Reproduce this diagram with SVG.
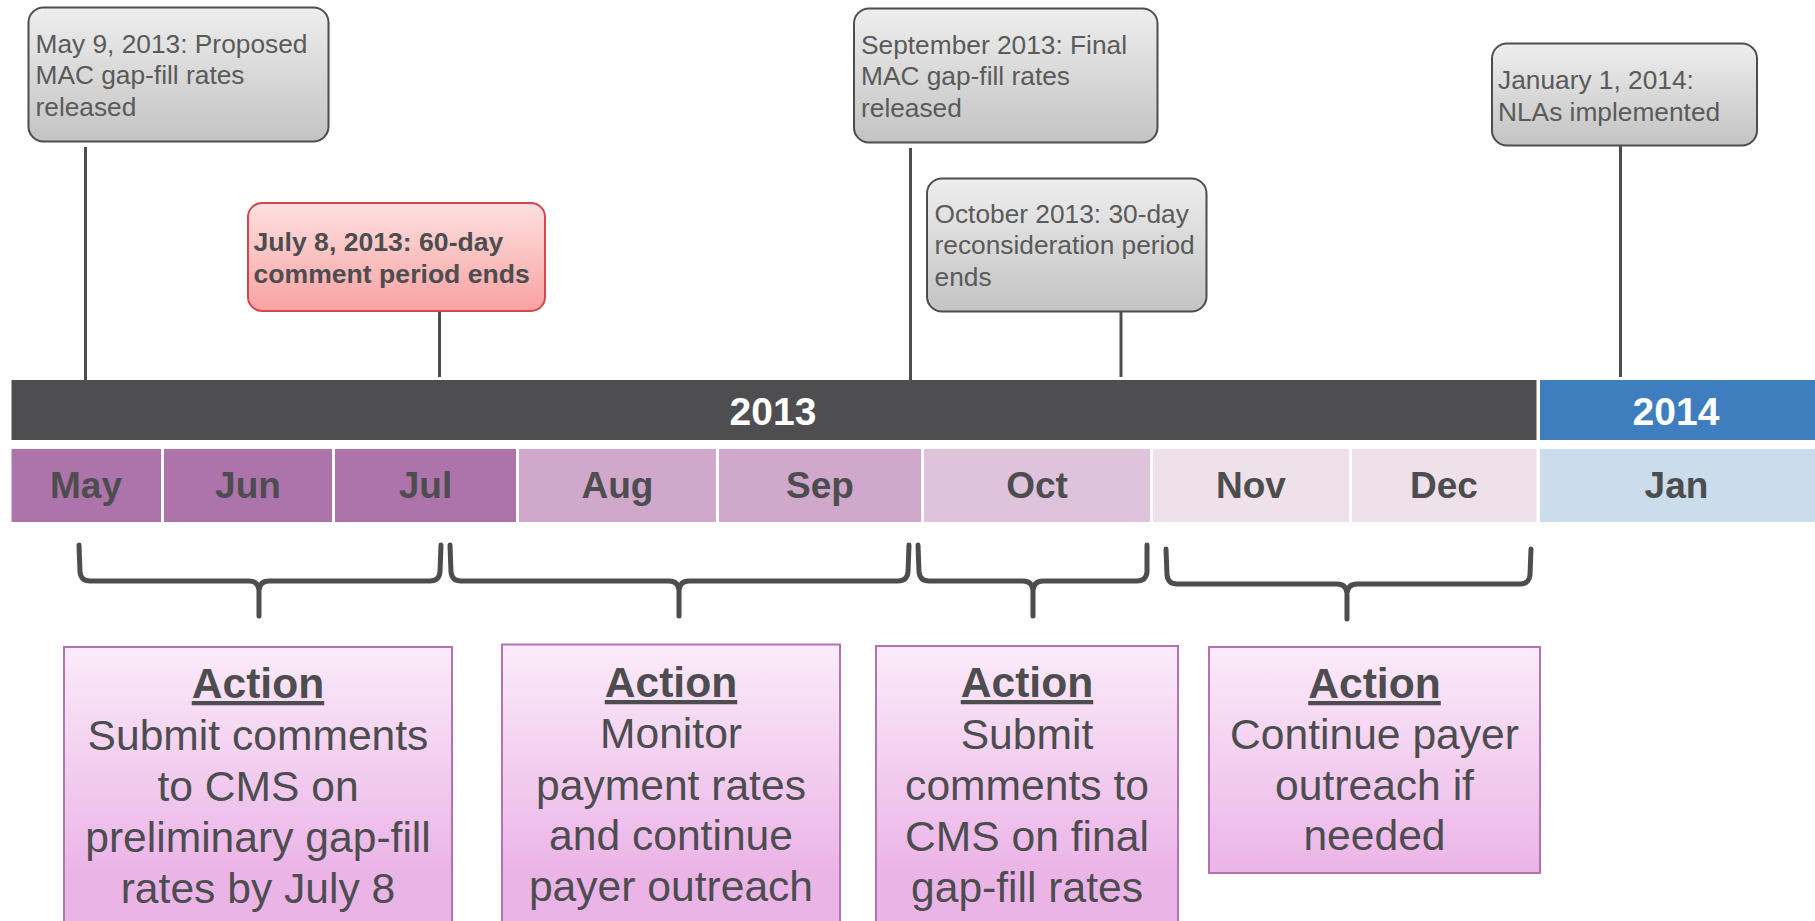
<svg xmlns="http://www.w3.org/2000/svg" width="1815" height="921" viewBox="0 0 1815 921">
<defs>
<linearGradient id="gGrey" x1="0" y1="0" x2="0" y2="1"><stop offset="0" stop-color="#eeeeee"/><stop offset="1" stop-color="#c3c3c3"/></linearGradient>
<linearGradient id="gRed" x1="0" y1="0" x2="0" y2="1"><stop offset="0" stop-color="#fde0e0"/><stop offset="1" stop-color="#f9a2a2"/></linearGradient>
<linearGradient id="gAct" gradientUnits="userSpaceOnUse" x1="0" y1="647" x2="0" y2="873"><stop offset="0" stop-color="#fbebf9"/><stop offset="1" stop-color="#ebb4e7"/></linearGradient>
</defs>
<style>
.call{fill:url(#gGrey);stroke:#4d4d4f;stroke-width:2}
.ct{font-family:"Liberation Sans",Arial,sans-serif;font-size:26.3px;fill:#5a5a5a}
.rt{font-family:"Liberation Sans",Arial,sans-serif;font-size:26.6px;font-weight:bold;fill:#4d4d4f}
.yr{font-family:"Liberation Sans",Arial,sans-serif;font-size:39px;font-weight:bold;fill:#ffffff;text-anchor:middle}
.mo{font-family:"Liberation Sans",Arial,sans-serif;font-size:37px;font-weight:bold;fill:#4d4d4f;text-anchor:middle}
.act{fill:url(#gAct);stroke:#b274b0;stroke-width:2}
.at{font-family:"Liberation Sans",Arial,sans-serif;font-size:42.6px;fill:#4d4d4f;text-anchor:middle}
.ah{font-weight:bold;text-decoration:underline}
.ln{stroke:#4d4d4f;stroke-width:3;fill:none}
.br{stroke:#4d4d4f;stroke-width:5;fill:none;stroke-linecap:round;stroke-linejoin:round}
</style>
<rect width="1815" height="921" fill="#ffffff"/>

<g id="connectors">
<line class="ln" x1="85.5" y1="147" x2="85.5" y2="380"/>
<line class="ln" x1="439.5" y1="311" x2="439.5" y2="377"/>
<line class="ln" x1="910.5" y1="148" x2="910.5" y2="380"/>
<line class="ln" x1="1121" y1="311" x2="1121" y2="377"/>
<line class="ln" x1="1620.5" y1="146" x2="1620.5" y2="377"/>
</g>

<g id="callout-may9">
<rect class="call" x="28.5" y="7.5" width="300" height="134" rx="15"/>
<text class="ct" x="35.5" y="52.5">May 9, 2013: Proposed</text>
<text class="ct" x="35.5" y="84">MAC gap-fill rates</text>
<text class="ct" x="35.5" y="115.5">released</text>
</g>
<g id="callout-jul8">
<rect x="248" y="203" width="297" height="108" rx="14" fill="url(#gRed)" stroke="#d4474d" stroke-width="2"/>
<text class="rt" x="253.5" y="250.5">July 8, 2013: 60-day</text>
<text class="rt" x="253.5" y="282.5">comment period ends</text>
</g>
<g id="callout-sep">
<rect class="call" x="854" y="8.5" width="303.5" height="134" rx="15"/>
<text class="ct" x="861" y="53.5">September 2013: Final</text>
<text class="ct" x="861" y="85">MAC gap-fill rates</text>
<text class="ct" x="861" y="116.5">released</text>
</g>
<g id="callout-oct">
<rect class="call" x="927" y="178.5" width="279.5" height="133" rx="15"/>
<text class="ct" x="934.5" y="222.5">October 2013: 30-day</text>
<text class="ct" x="934.5" y="254">reconsideration period</text>
<text class="ct" x="934.5" y="285.5">ends</text>
</g>
<g id="callout-jan1">
<rect class="call" x="1492" y="43.5" width="265" height="102" rx="15"/>
<text class="ct" x="1498" y="89">January 1, 2014:</text>
<text class="ct" x="1498" y="120.5">NLAs implemented</text>
</g>

<g id="year-2013">
<rect x="11.5" y="380" width="1525" height="60" fill="#4e4e50"/>
<text class="yr" x="773" y="424.5">2013</text>
</g>
<g id="year-2014">
<rect x="1540" y="380" width="275" height="60" fill="#3f7ebe"/>
<text class="yr" x="1676" y="424.5">2014</text>
</g>

<g id="month-may"><rect x="11.5" y="449" width="149.5" height="73" fill="#ad74ab"/><text class="mo" x="86" y="498">May</text></g>
<g id="month-jun"><rect x="164" y="449" width="168" height="73" fill="#ad74ab"/><text class="mo" x="248" y="498">Jun</text></g>
<g id="month-jul"><rect x="335" y="449" width="181" height="73" fill="#ad74ab"/><text class="mo" x="425.5" y="498">Jul</text></g>
<g id="month-aug"><rect x="519" y="449" width="197" height="73" fill="#cfa8cb"/><text class="mo" x="617.5" y="498">Aug</text></g>
<g id="month-sep"><rect x="719" y="449" width="202" height="73" fill="#cfa8cb"/><text class="mo" x="820" y="498">Sep</text></g>
<g id="month-oct"><rect x="924" y="449" width="226" height="73" fill="#dfc3dc"/><text class="mo" x="1037" y="498">Oct</text></g>
<g id="month-nov"><rect x="1153" y="449" width="196" height="73" fill="#eee1ea"/><text class="mo" x="1251" y="498">Nov</text></g>
<g id="month-dec"><rect x="1352" y="449" width="184.5" height="73" fill="#eee1ea"/><text class="mo" x="1444" y="498">Dec</text></g>
<g id="month-jan"><rect x="1540" y="449" width="275" height="73" fill="#cbdcec"/><text class="mo" x="1676.5" y="498">Jan</text></g>

<g id="braces">
<path class="br" d="M79,545 L80,572 Q81,581 90,581 L249,581 Q258,581 259,590 L259,616 M259,590 Q260,581 269,581 L430,581 Q439,581 440,572 L441,545"/>
<path class="br" d="M450,545 L451,572 Q452,581 461,581 L669,581 Q678,581 679,590 L679,616 M679,590 Q680,581 689,581 L898,581 Q907,581 908,572 L909,545"/>
<path class="br" d="M918,545 L919,572 Q920,581 929,581 L1023,581 Q1032,581 1033,590 L1033,616 M1033,590 Q1034,581 1043,581 L1137,581 Q1146,581 1147,572 L1147,545"/>
<path class="br" d="M1166,549 L1167,575 Q1168,584 1177,584 L1337,584 Q1346,584 1347,593 L1347,619 M1347,593 Q1348,584 1357,584 L1520,584 Q1529,584 1530,575 L1531,549"/>
</g>

<g id="action-1">
<rect class="act" x="64" y="647" width="388" height="290"/>
<text class="at ah" x="258" y="698">Action</text>
<text class="at" x="258" y="749.5">Submit comments</text>
<text class="at" x="258" y="801">to CMS on</text>
<text class="at" x="258" y="851.5">preliminary gap-fill</text>
<text class="at" x="258" y="902.5">rates by July 8</text>
</g>
<g id="action-2">
<rect class="act" x="502" y="644.5" width="338" height="290"/>
<text class="at ah" x="671" y="697">Action</text>
<text class="at" x="671" y="748">Monitor</text>
<text class="at" x="671" y="799.5">payment rates</text>
<text class="at" x="671" y="850">and continue</text>
<text class="at" x="671" y="901">payer outreach</text>
</g>
<g id="action-3">
<rect class="act" x="876" y="646" width="302" height="290"/>
<text class="at ah" x="1027" y="697">Action</text>
<text class="at" x="1027" y="748.5">Submit</text>
<text class="at" x="1027" y="800">comments to</text>
<text class="at" x="1027" y="850.5">CMS on final</text>
<text class="at" x="1027" y="901.5">gap-fill rates</text>
</g>
<g id="action-4">
<rect class="act" x="1209" y="647" width="331" height="226"/>
<text class="at ah" x="1374.5" y="698">Action</text>
<text class="at" x="1374.5" y="749">Continue payer</text>
<text class="at" x="1374.5" y="799.5">outreach if</text>
<text class="at" x="1374.5" y="850">needed</text>
</g>
</svg>
